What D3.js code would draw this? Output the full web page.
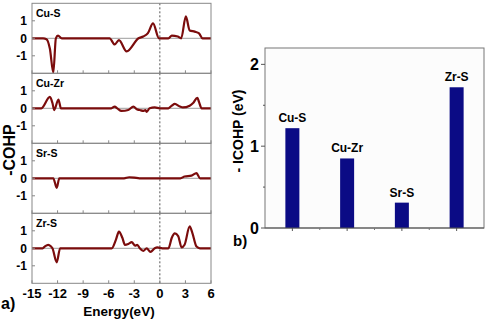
<!DOCTYPE html>
<html>
<head>
<meta charset="utf-8">
<script src="https://cdn.jsdelivr.net/npm/d3@7"></script>
<style>
body { margin: 0; background: #fff; }
svg { font-family: "Liberation Sans", Arial, sans-serif; font-weight: bold; }
</style>
</head>
<body>
<svg id="chart" width="487" height="319"></svg>
<script>
// COHP curves, [energy (eV), -COHP]
var cuS = [[-15,0],[-13.7,0],[-13.3,-0.05],[-12.9,-0.6],[-12.5,-1.96],[-12.2,0],[-11.95,0.15],[-11.5,0],
  [-5.9,0],[-5.3,-0.35],[-4.8,-0.1],[-3.9,-0.75],[-2.5,0],[-1.95,0.1],[-1.4,0.3],[-0.8,0.85],[-0.1,0],
  [1.0,0],[1.4,0.15],[2.1,0.1],[2.5,0],[3.05,1.25],[3.5,0.45],[4.1,0.38],[4.6,0.28],[5.0,0],[6,0]];
var cuZr = [[-15,0],[-13.9,0],[-12.9,0.65],[-12.6,0.3],[-12.4,-0.1],[-11.9,0.5],[-11.6,0],
  [-5.7,0],[-5.3,0.1],[-5.0,0],[-4.5,-0.15],[-3.7,-0.1],[-3.1,0.1],[-2.7,-0.05],[-2.35,-0.1],[-1.95,-0.15],
  [-1.7,-0.1],[-1.55,-0.2],[-1.2,0],[-0.6,0.05],[0,0],[1.0,0],[1.4,0.15],[1.75,0.25],[2.35,0.1],[2.7,0.05],
  [3.5,0.15],[3.9,0.3],[4.4,0.6],[4.6,0.35],[4.9,0],[6,0]];
var srS = [[-15,0],[-12.5,0],[-12.1,-0.55],[-11.8,0],[-4.2,0],[-3.6,0.06],[-3.0,0.04],[-2.4,0],
  [2.4,0],[2.9,0.1],[3.7,0.15],[4.3,0.3],[4.7,0],[6,0]];
var zrS = [[-15,0],[-13.75,0],[-13.5,0.1],[-13.1,0.2],[-12.8,0.12],[-12.6,0],[-12.1,-0.8],[-11.7,0],
  [-5.65,0],[-5.15,0.5],[-4.8,0.95],[-4.4,0.6],[-4.1,0.2],[-3.7,0.25],[-3.3,0.35],[-2.9,0.15],[-2.65,0.2],
  [-2.35,0],[-1.95,-0.15],[-1.55,0],[-1.1,-0.2],[-0.6,0],[-0.3,0.05],[0.3,0],[1.0,0],[1.4,0.6],[1.75,0.85],
  [2.15,0.7],[2.55,0.05],[2.9,0.2],[3.5,1.25],[3.8,0.9],[4.3,0.1],[4.7,0],[6,0]];

var panelNames = ["Cu-S", "Cu-Zr", "Sr-S", "Zr-S"];
var panelData = [cuS, cuZr, srS, zrS];
var energyTicks = [-15, -12, -9, -6, -3, 0, 3, 6];
var cohpTicks = [-1, 0, 1];

// integrated COHP bars
var bonds = ["Cu-S", "Cu-Zr", "Sr-S", "Zr-S"];
var icohp = [1.22, 0.85, 0.31, 1.72];
var icohpTicks = [0, 1, 2];

var svg = d3.select("#chart");
var lineColor = "#7b0c0c";

// ---- panel a ----
var x = d3.scaleLinear().domain([-15, 6]).range([32, 211]);
var panelH = 70, top0 = 3.3;

panelData.forEach(function(data, i) {
  var t = top0 + i * panelH;
  var y = d3.scaleLinear().domain([-2, 2]).range([t + panelH, t]);
  var g = svg.append("g");

  g.append("line")
    .attr("x1", x(-15)).attr("x2", x(6))
    .attr("y1", y(0)).attr("y2", y(0))
    .style("stroke", "#b0b0b0").style("stroke-width", 1.2);

  g.append("line")
    .attr("x1", x(0)).attr("x2", x(0))
    .attr("y1", t).attr("y2", t + panelH)
    .style("stroke", "#555").style("stroke-width", 1)
    .style("stroke-dasharray", "2,2");

  var line = d3.line()
    .x(function(d) { return x(d[0]); })
    .y(function(d) { return y(d[1]); })
    .curve(d3.curveMonotoneX);

  g.append("path")
    .datum(data)
    .attr("d", line)
    .style("fill", "none")
    .style("stroke", lineColor)
    .style("stroke-width", 2.2)
    .style("stroke-linejoin", "round");

  g.append("rect")
    .attr("x", x(-15)).attr("y", t)
    .attr("width", x(6) - x(-15)).attr("height", panelH)
    .style("fill", "none").style("stroke", "#888").style("stroke-width", 1);

  // x ticks inward
  g.selectAll(".xt").data(energyTicks).enter().append("line")
    .attr("x1", function(d) { return x(d); }).attr("x2", function(d) { return x(d); })
    .attr("y1", t + panelH).attr("y2", t + panelH - 3)
    .style("stroke", "#888");

  // y ticks
  g.selectAll(".yt").data(cohpTicks).enter().append("line")
    .attr("x1", x(-15)).attr("x2", x(-15) + 3)
    .attr("y1", function(d) { return y(d); }).attr("y2", function(d) { return y(d); })
    .style("stroke", "#888");

  g.selectAll(".yl").data(cohpTicks).enter().append("text")
    .attr("x", 27).attr("y", function(d) { return y(d) + 4.5; })
    .attr("text-anchor", "end")
    .style("font-size", "12px")
    .text(function(d) { return d; });

  g.append("text")
    .attr("x", 36).attr("y", t + 14)
    .style("font-size", "10.5px")
    .text(panelNames[i]);
});

svg.selectAll(".xl").data(energyTicks).enter().append("text")
  .attr("x", function(d) { return x(d); })
  .attr("y", 298)
  .attr("text-anchor", "middle")
  .style("font-size", "13px")
  .text(function(d) { return d; });

svg.append("text")
  .attr("x", 119).attr("y", 316)
  .attr("text-anchor", "middle")
  .style("font-size", "13.5px")
  .text("Energy(eV)");

svg.append("text")
  .attr("transform", "translate(15,150) rotate(-90)")
  .attr("text-anchor", "middle")
  .style("font-size", "16px")
  .text("-COHP");

svg.append("text")
  .attr("x", 1).attr("y", 309)
  .style("font-size", "16px")
  .text("a)");

// ---- panel b ----
var xb = d3.scaleBand().domain(bonds).range([265, 484]);
var yb = d3.scaleLinear().domain([0, 2.2]).range([228, 48]);
var gb = svg.append("g");

gb.append("rect")
  .attr("x", 265).attr("y", 48)
  .attr("width", 219).attr("height", 180)
  .style("fill", "#fcfcfc").style("stroke", "#777").style("stroke-width", 1);

var barW = 14;
gb.selectAll(".bar").data(bonds).enter().append("rect")
  .attr("x", function(d) { return xb(d) + xb.bandwidth() / 2 - barW / 2; })
  .attr("y", function(d, i) { return yb(icohp[i]); })
  .attr("width", barW)
  .attr("height", function(d, i) { return yb(0) - yb(icohp[i]); })
  .style("fill", "#0b0b85");

gb.selectAll(".bl").data(bonds).enter().append("text")
  .attr("x", function(d) { return xb(d) + xb.bandwidth() / 2; })
  .attr("y", function(d, i) { return yb(icohp[i]) - 6; })
  .attr("text-anchor", "middle")
  .style("font-size", "12px")
  .text(function(d) { return d; });

gb.append("line")
  .attr("x1", 265).attr("x2", 484).attr("y1", yb(0)).attr("y2", yb(0))
  .style("stroke", "#555").style("stroke-width", 1.2);

// x ticks: major at bar centres, minor at band edges
gb.selectAll(".bt").data(bonds).enter().append("line")
  .attr("x1", function(d) { return xb(d) + xb.bandwidth() / 2; })
  .attr("x2", function(d) { return xb(d) + xb.bandwidth() / 2; })
  .attr("y1", yb(0)).attr("y2", yb(0) + 3)
  .style("stroke", "#555");
gb.selectAll(".bm").data(bonds.slice(1)).enter().append("line")
  .attr("x1", function(d) { return xb(d); }).attr("x2", function(d) { return xb(d); })
  .attr("y1", yb(0)).attr("y2", yb(0) + 2)
  .style("stroke", "#777");

gb.selectAll(".byt").data([0, 0.5, 1, 1.5, 2]).enter().append("line")
  .attr("x1", function(d) { return d % 1 === 0 ? 261 : 263; }).attr("x2", 265)
  .attr("y1", function(d) { return yb(d); }).attr("y2", function(d) { return yb(d); })
  .style("stroke", "#555");

gb.selectAll(".byl").data(icohpTicks).enter().append("text")
  .attr("x", 259).attr("y", function(d) { return yb(d) + 5.5; })
  .attr("text-anchor", "end")
  .style("font-size", "16px")
  .text(function(d) { return d; });

svg.append("text")
  .attr("transform", "translate(243,131) rotate(-90)")
  .attr("text-anchor", "middle")
  .style("font-size", "14px")
  .text("- ICOHP (eV)");

svg.append("text")
  .attr("x", 233).attr("y", 246)
  .style("font-size", "15px")
  .text("b)");
</script>
</body>
</html>
